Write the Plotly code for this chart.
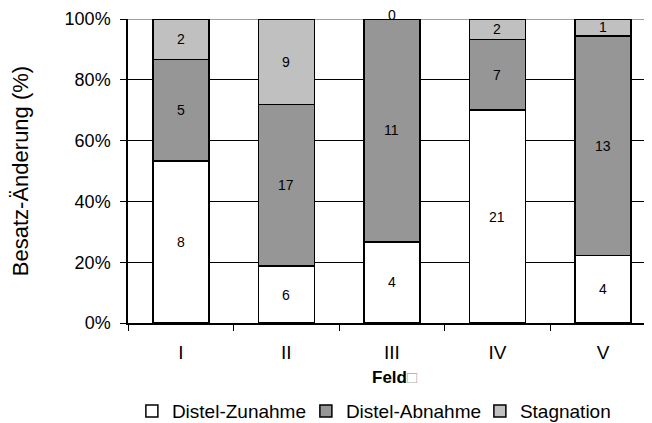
import plotly.graph_objects as go

# Anzahl Felder je Kategorie (Besatz-Änderung)
felder = ["I", "II", "III", "IV", "V"]
zunahme = [8, 6, 4, 21, 4]
abnahme = [5, 17, 11, 7, 13]
stagnation = [2, 9, 0, 2, 1]

series = [
    ("Distel-Zunahme", zunahme, "#ffffff"),
    ("Distel-Abnahme", abnahme, "#969696"),
    ("Stagnation", stagnation, "#c0c0c0"),
]

totals = [a + b + c for a, b, c in zip(zunahme, abnahme, stagnation)]
FONT = "Arial, Liberation Sans, sans-serif"

fig = go.Figure()
annotations = []
base = [0.0] * len(felder)
for name, vals, color in series:
    pct = [100.0 * v / t for v, t in zip(vals, totals)]
    fig.add_trace(go.Bar(
        x=felder, y=pct, name=name, width=0.53,
        marker=dict(color=color, line=dict(color="black", width=1.5)),
        hoverinfo="skip",
    ))
    for i, (v, p) in enumerate(zip(vals, pct)):
        mid = base[i] + p / 2
        annotations.append(dict(
            x=felder[i], y=mid, text=str(v), showarrow=False,
            yshift=4 if p == 0 else 0,
            font=dict(family=FONT, size=14, color="black"),
        ))
        base[i] += p

# x axis title as annotation so it sits where the original has it
annotations.append(dict(
    xref="paper", yref="paper", x=0.5, y=0, yshift=-54,
    xanchor="center", yanchor="middle", showarrow=False,
    text="<b>Feld</b><span style='color:#aaaaaa'>\u25a1</span>",
    font=dict(family=FONT, size=17, color="black"),
))

# page body has an 8px margin, so the plot is shifted up/left by that much
fig.update_layout(
    barmode="stack",
    width=652, height=423,
    margin=dict(l=120, r=0, t=11, b=108, autoexpand=False),
    paper_bgcolor="white", plot_bgcolor="white",
    font=dict(family=FONT, color="black"),
    annotations=annotations,
    legend=dict(
        orientation="h", xref="container", x=0.19, xanchor="left",
        yref="container", y=0.047, yanchor="middle",
        font=dict(size=19, family=FONT), traceorder="normal",
        itemwidth=30, entrywidth=129, entrywidthmode="pixels",
    ),
    shapes=[dict(type="line", xref="paper", yref="y", x0=0, x1=1, y0=100, y1=100,
                 line=dict(color="#a0a0a0", width=2), layer="below")],
)

fig.update_xaxes(
    range=[-0.5, 4.54], automargin=False,
    showline=True, linecolor="black", linewidth=1.5,
    ticks="outside", tickson="boundaries", ticklen=6, tickcolor="black",
    tickfont=dict(size=19, family=FONT), ticklabelstandoff=11,
    showgrid=False,
)
fig.update_yaxes(
    range=[0, 100], automargin=False,
    tickvals=[0, 20, 40, 60, 80, 100],
    ticktext=["0%", "20%", "40%", "60%", "80%", "100%"],
    showline=True, linecolor="black", linewidth=1.5,
    ticks="outside", ticklen=6, tickcolor="black",
    showgrid=False, zeroline=False,
    minor=dict(tickvals=[20, 40, 60, 80], showgrid=True, gridcolor="black",
               gridwidth=1, ticks=""),
    tickfont=dict(size=18, family=FONT), ticklabelstandoff=6,
    title=dict(text="Besatz-Änderung (%)", font=dict(size=22, family=FONT), standoff=32),
)

fig.write_html("out.html")
